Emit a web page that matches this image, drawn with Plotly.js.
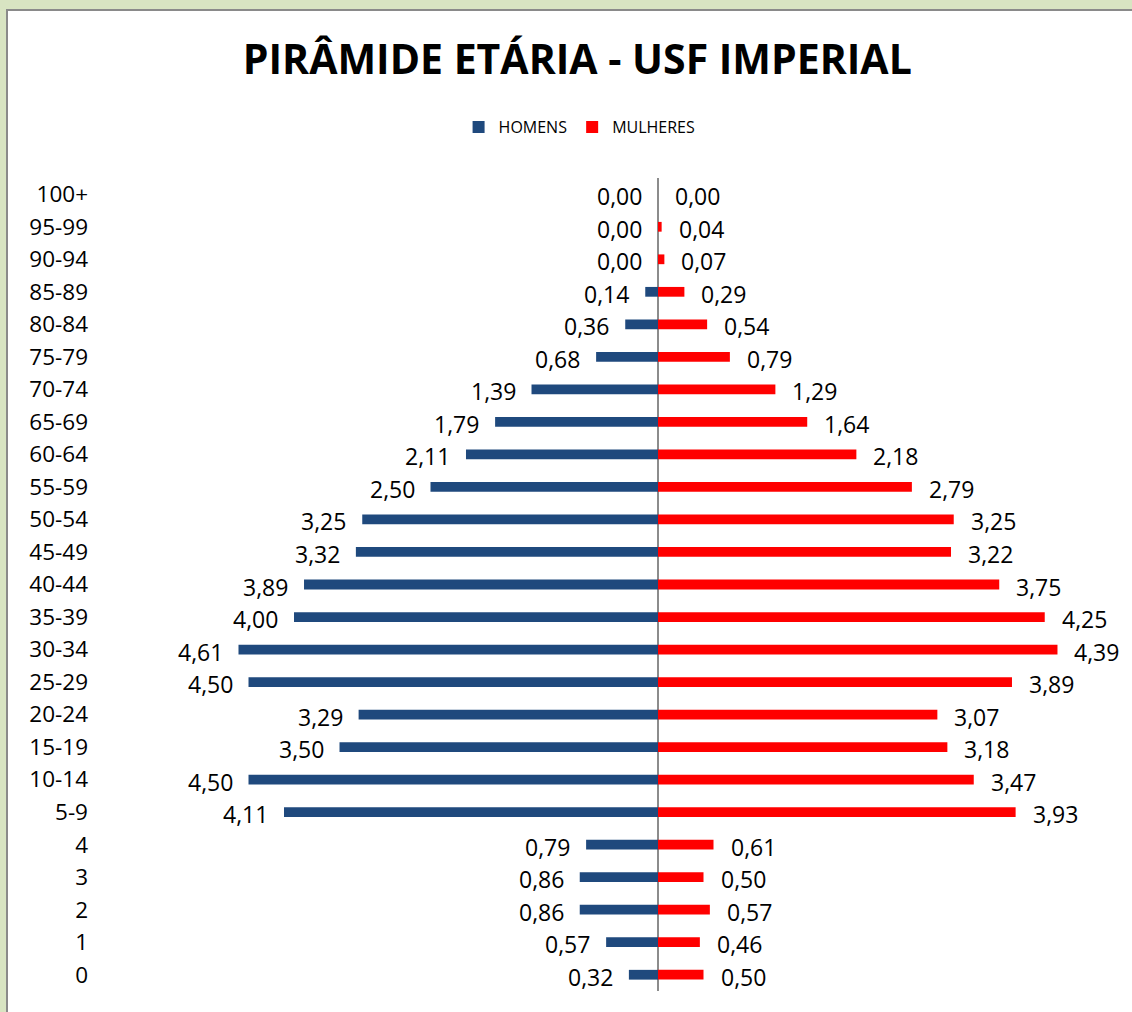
<!DOCTYPE html>
<html>
<head>
<meta charset="utf-8">
<script src="https://cdn.plot.ly/plotly-3.0.1.min.js"></script>
<style>
html,body{margin:0;padding:0;width:1132px;height:1012px;overflow:hidden;background:#d8e4c2;}
#frame{position:absolute;left:6px;top:9px;width:1140px;height:1020px;background:#ffffff;border:2px solid #8a8a8a;}
#chart{position:absolute;left:0;top:0;width:1132px;height:1012px;}
</style>
</head>
<body>
<div id="frame"></div>
<div id="chart"></div>
<script>
const ageGroups = ["0","1","2","3","4","5-9","10-14","15-19","20-24","25-29","30-34","35-39","40-44","45-49","50-54","55-59","60-64","65-69","70-74","75-79","80-84","85-89","90-94","95-99","100+"];
const homens = [0.32,0.57,0.86,0.86,0.79,4.11,4.50,3.50,3.29,4.50,4.61,4.00,3.89,3.32,3.25,2.50,2.11,1.79,1.39,0.68,0.36,0.14,0.00,0.00,0.00];
const mulheres = [0.50,0.46,0.57,0.50,0.61,3.93,3.47,3.18,3.07,3.89,4.39,4.25,3.75,3.22,3.25,2.79,2.18,1.64,1.29,0.79,0.54,0.29,0.07,0.04,0.00];

const fmt = v => v.toFixed(2).replace('.', ',');
const FONT = 'Open Sans, Liberation Sans, sans-serif';
const labelFont = {family: FONT, size: 23, color: '#000000'};

const traces = [
  {
    type: 'bar', orientation: 'h', name: 'HOMENS',
    y: ageGroups, x: homens.map(v => -v),
    marker: {color: '#1f497d'}, width: 0.3, hoverinfo: 'skip'
  },
  {
    type: 'bar', orientation: 'h', name: 'MULHERES',
    y: ageGroups, x: mulheres,
    marker: {color: '#ff0000'}, width: 0.3, hoverinfo: 'skip'
  }
];

const annotations = [];
ageGroups.forEach((g, i) => {
  annotations.push({
    x: -homens[i], y: g, xref: 'x', yref: 'y',
    text: fmt(homens[i]), showarrow: false,
    xanchor: 'right', yanchor: 'middle', xshift: -14, yshift: -2,
    font: labelFont
  });
  annotations.push({
    x: mulheres[i], y: g, xref: 'x', yref: 'y',
    text: fmt(mulheres[i]), showarrow: false,
    xanchor: 'left', yanchor: 'middle', xshift: 15, yshift: -2,
    font: labelFont
  });
});

const layout = {
  width: 1132, height: 1012,
  paper_bgcolor: 'rgba(0,0,0,0)', plot_bgcolor: 'rgba(0,0,0,0)',
  margin: {l: 100, r: 2, t: 178, b: 21},
  barmode: 'overlay',
  showlegend: true,
  annotations: annotations,
  title: {
    text: '<b>PIRÂMIDE ETÁRIA - USF IMPERIAL</b>',
    font: {family: FONT, size: 41, color: '#000000'},
    x: 0.51, xref: 'container', xanchor: 'center',
    y: 1 - 60/1012, yref: 'container', yanchor: 'middle'
  },
  legend: {
    orientation: 'h', x: 0.512, xref: 'container', xanchor: 'center',
    y: 1 - 127/1012, yref: 'container', yanchor: 'middle',
    font: {family: FONT, size: 16, color: '#000000'},
    itemwidth: 30, traceorder: 'normal'
  },
  xaxis: {
    range: [-6.132, 5.187],
    showgrid: false, showticklabels: false, ticks: '',
    zeroline: true, zerolinecolor: '#8c8c8c', zerolinewidth: 1.5,
    showline: false, fixedrange: true
  },
  yaxis: {
    type: 'category', categoryorder: 'array', categoryarray: ageGroups,
    range: [-0.5, 24.5],
    showgrid: false, ticks: '', showline: false, zeroline: false,
    tickfont: {family: FONT, size: 22.5, color: '#000000'},
    ticklabelstandoff: 11, fixedrange: true
  },
  font: {family: FONT}
};

Plotly.newPlot('chart', traces, layout, {displayModeBar: false, staticPlot: true});
</script>
</body>
</html>
